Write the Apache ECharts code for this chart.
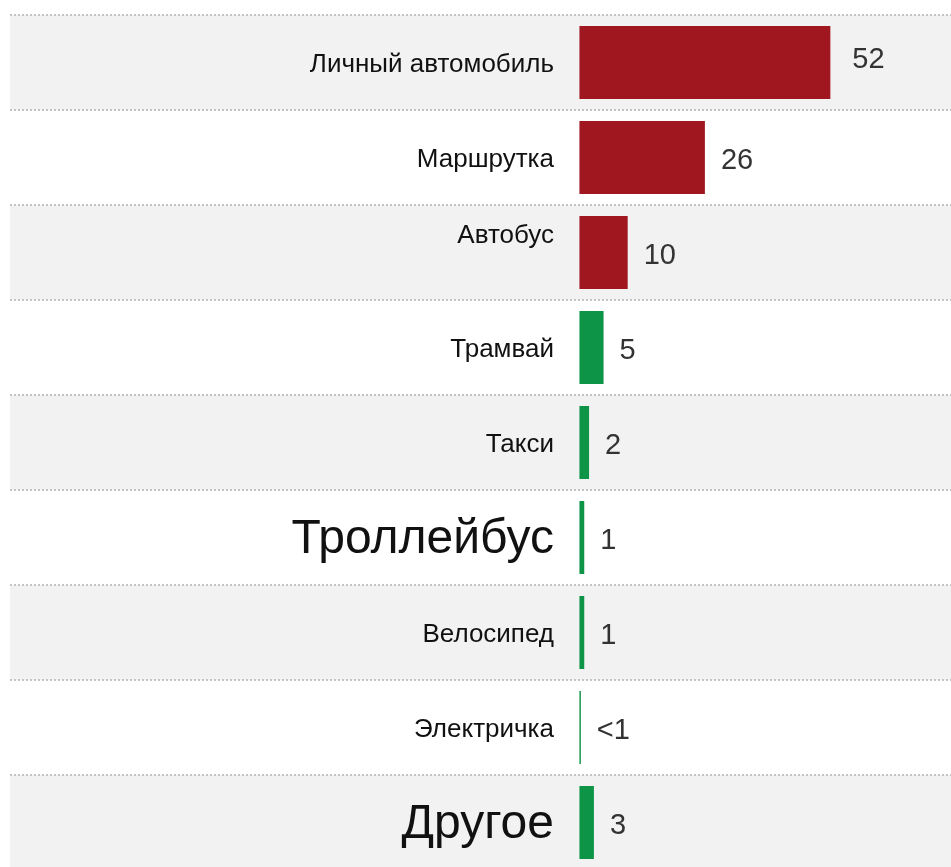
<!DOCTYPE html>
<html>
<head>
<meta charset="utf-8">
<script src="https://cdn.jsdelivr.net/npm/echarts@6/dist/echarts.min.js"></script>
<style>
html,body{margin:0;padding:0;background:#fff;}
#chart{width:951px;height:867px;}
</style>
</head>
<body>
<div id="chart"></div>
<script>
var categories = ['Личный автомобиль','Маршрутка','Автобус','Трамвай','Такси','Троллейбус','Велосипед','Электричка','Другое'];
var values = [52, 26, 10, 5, 2, 1, 1, 0.3, 3];
var valueLabels = ['52','26','10','5','2','1','1','<1','3'];

var bigLabels = {'Троллейбус': true, 'Другое': true};
var FONT = 'Liberation Sans';
var chart = echarts.init(document.getElementById('chart'), null, {renderer: 'canvas'});

var seriesData = values.map(function (v, i) {
  var item = {
    value: v,
    itemStyle: {color: v >= 10 ? '#a0171f' : '#0e9446'}
  };
  if (i === 0) {
    item.label = {distance: 22, offset: [0, -3]};
  }
  return item;
});

var option = {
  animation: false,
  backgroundColor: '#ffffff',
  grid: {left: 10, right: 0, top: 15, height: 855, containLabel: false, outerBoundsMode: 'none'},
  xAxis: {
    type: 'value',
    min: -118,
    max: 77,
    show: false,
    splitLine: {show: false}
  },
  yAxis: {
    type: 'category',
    inverse: true,
    data: categories,
    offset: -569,
    axisLine: {show: false},
    axisTick: {show: false},
    axisLabel: {
      margin: 25,
      color: '#111',
      fontFamily: FONT,
      fontSize: 26,
      formatter: function (v) {
        if (bigLabels[v]) return '{big|' + v + '}';
        if (v === 'Автобус') return '{up|' + v + '}';
        return '{n|' + v + '}';
      },
      rich: {
        n: {fontSize: 26, color: '#111', fontFamily: FONT, padding: [4, 0, 0, 0]},
        big: {fontSize: 48, color: '#111', fontFamily: FONT, padding: [4, 0, 0, 0]},
        up: {fontSize: 26, color: '#111', fontFamily: FONT, padding: [0, 0, 34, 0]}
      }
    },
    splitArea: {show: true, areaStyle: {color: ['#f2f2f2', '#ffffff']}},
    splitLine: {show: true, lineStyle: {color: '#c4c4c4', width: 2, type: [2, 2]}}
  },
  series: [{
    type: 'bar',
    data: seriesData,
    barWidth: 73,
    z: 5,
    label: {
      show: true,
      position: 'right',
      distance: 16,
      offset: [0, 3],
      color: '#333',
      fontSize: 29,
      fontFamily: FONT,
      formatter: function (p) { return valueLabels[p.dataIndex]; }
    }
  }]
};
chart.setOption(option);
</script>
</body>
</html>
